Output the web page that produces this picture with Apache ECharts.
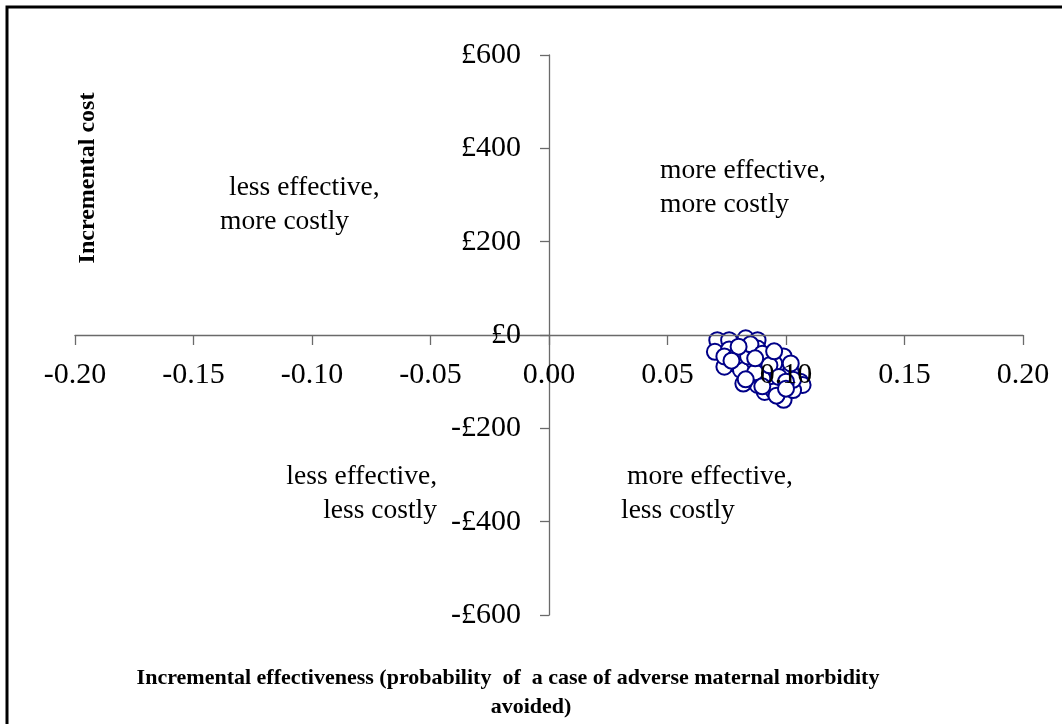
<!DOCTYPE html>
<html>
<head>
<meta charset="utf-8">
<script src="https://cdn.jsdelivr.net/npm/echarts@6/dist/echarts.min.js"></script>
<style>
  html, body { margin: 0; padding: 0; background: #fff; }
  #chart { width: 1062px; height: 724px; }
</style>
</head>
<body>
<div id="chart"></div>
<script>
// Incremental effectiveness of each simulation run
const effectValues = [
  0.071, 0.076, 0.083, 0.088, 0.070, 0.076, 0.082, 0.088, 0.078, 0.074,
  0.086, 0.092, 0.099, 0.096, 0.085, 0.092, 0.102, 0.106, 0.098, 0.091,
  0.099, 0.107, 0.094, 0.081, 0.088, 0.103, 0.074, 0.079, 0.084, 0.089,
  0.095, 0.102, 0.082, 0.103, 0.095, 0.090, 0.085, 0.090, 0.093, 0.097,
  0.100, 0.087, 0.083, 0.090, 0.096, 0.100, 0.087, 0.080, 0.077, 0.095
];
// Incremental cost (£) of each simulation run
const costValues = [
  -11, -11, -7, -11, -36, -31, -32, -29, -61, -68,
  -61, -54, -46, -75, -89, -86, -79, -100, -111, -122,
  -139, -107, -100, -75, -107, -118, -46, -46, -46, -68,
  -61, -61, -104, -96, -121, -93, -20, -40, -65, -90,
  -100, -80, -95, -110, -130, -115, -50, -25, -55, -35
];
const xTicks = [-0.20, -0.15, -0.10, -0.05, 0.00, 0.05, 0.10, 0.15, 0.20];
const yTicks = [-600, -400, -200, 0, 200, 400, 600];

const quadrantLabels = [
  { text: 'less effective,', x: 229, y: 188, align: 'left' },
  { text: 'more costly', x: 220, y: 222, align: 'left' },
  { text: 'more effective,', x: 660, y: 171, align: 'left' },
  { text: 'more costly', x: 660, y: 205, align: 'left' },
  { text: 'less effective,', x: 437, y: 477, align: 'right' },
  { text: 'less costly', x: 437, y: 511, align: 'right' },
  { text: 'more effective,', x: 627, y: 477, align: 'left' },
  { text: 'less costly', x: 621, y: 511, align: 'left' }
];

const serif = '"Liberation Serif", "Times New Roman", serif';
const points = effectValues.map((e, i) => [e, costValues[i]]);
const xMin = xTicks[0], xMax = xTicks[xTicks.length - 1];
const yMin = yTicks[0], yMax = yTicks[yTicks.length - 1];
const axisColor = '#6a6a6a';

function fmtCost(v) {
  return (v < 0 ? '-£' : '£') + Math.abs(v);
}

// Plot area edges
const L = 75, R = 39, T = 55, B = 109;
// Pixel row of cost = 0 and column of effectiveness = 0
const zeroY = T + (724 - T - B) * yMax / (yMax - yMin);
const zeroX = L + (1062 - L - R) * (-xMin) / (xMax - xMin);

const hiddenAxis = {
  show: false, splitLine: { show: false }
};

const chart = echarts.init(document.getElementById('chart'));
chart.setOption({
  animation: false,
  backgroundColor: '#fff',
  grid: [
    // data area
    { left: L, right: R, top: T, bottom: B, outerBoundsMode: 'none', containLabel: false },
    // horizontal axis drawn along cost = 0
    { left: L, right: R, top: T, bottom: 724 - zeroY, outerBoundsMode: 'none', containLabel: false },
    // vertical axis drawn along effectiveness = 0
    { left: zeroX, right: R, top: T, bottom: B, outerBoundsMode: 'none', containLabel: false }
  ],
  xAxis: [
    Object.assign({ type: 'value', gridIndex: 0, min: xMin, max: xMax, interval: 0.05 }, hiddenAxis),
    {
      type: 'value', gridIndex: 1, position: 'bottom', z: 10,
      min: xMin, max: xMax, interval: 0.05,
      axisLine: { onZero: false, lineStyle: { color: axisColor, width: 1.3 } },
      axisTick: { show: true, length: 10, lineStyle: { color: axisColor, width: 1.3 } },
      splitLine: { show: false },
      axisLabel: {
        margin: 25, color: '#000', fontFamily: serif, fontSize: 30,
        formatter: v => v.toFixed(2)
      }
    },
    Object.assign({ type: 'value', gridIndex: 2, min: 0, max: 1 }, hiddenAxis)
  ],
  yAxis: [
    Object.assign({ type: 'value', gridIndex: 0, min: yMin, max: yMax, interval: 200 }, hiddenAxis),
    Object.assign({ type: 'value', gridIndex: 1, min: 0, max: 1 }, hiddenAxis),
    {
      type: 'value', gridIndex: 2, position: 'left', z: 10,
      min: yMin, max: yMax, interval: 200,
      axisLine: { onZero: false, lineStyle: { color: axisColor, width: 1.3 } },
      axisTick: { show: true, length: 9, lineStyle: { color: axisColor, width: 1.3 } },
      splitLine: { show: false },
      axisLabel: {
        margin: 28, color: '#000', fontFamily: serif, fontSize: 30,
        formatter: fmtCost
      }
    }
  ],
  series: [{
    type: 'scatter',
    xAxisIndex: 0,
    yAxisIndex: 0,
    data: points,
    symbol: 'circle',
    symbolSize: 16,
    z: 1,
    itemStyle: { color: '#fff', borderColor: '#000088', borderWidth: 2, opacity: 1 }
  }],
  graphic: [
    {
      type: 'rect',
      shape: { x: 7, y: 7, width: 1200, height: 900 },
      style: { fill: 'none', stroke: '#000', lineWidth: 3 },
      silent: true
    },
    {
      type: 'text',
      x: 88, y: 178,
      rotation: Math.PI / 2,
      style: {
        text: 'Incremental cost',
        font: 'bold 24px ' + serif,
        fill: '#000',
        textAlign: 'center',
        textVerticalAlign: 'middle'
      }
    },
    {
      type: 'text',
      x: 508, y: 678,
      style: {
        text: 'Incremental effectiveness (probability  of  a case of adverse maternal morbidity',
        font: 'bold 22px ' + serif,
        fill: '#000',
        textAlign: 'center',
        textVerticalAlign: 'middle'
      }
    },
    {
      type: 'text',
      x: 531, y: 707,
      style: {
        text: 'avoided)',
        font: 'bold 22px ' + serif,
        fill: '#000',
        textAlign: 'center',
        textVerticalAlign: 'middle'
      }
    }
  ].concat(quadrantLabels.map(q => ({
    type: 'text',
    x: q.x, y: q.y,
    style: {
      text: q.text,
      font: '27.5px ' + serif,
      fill: '#000',
      textAlign: q.align,
      textVerticalAlign: 'middle'
    }
  })))
});
</script>
</body>
</html>
